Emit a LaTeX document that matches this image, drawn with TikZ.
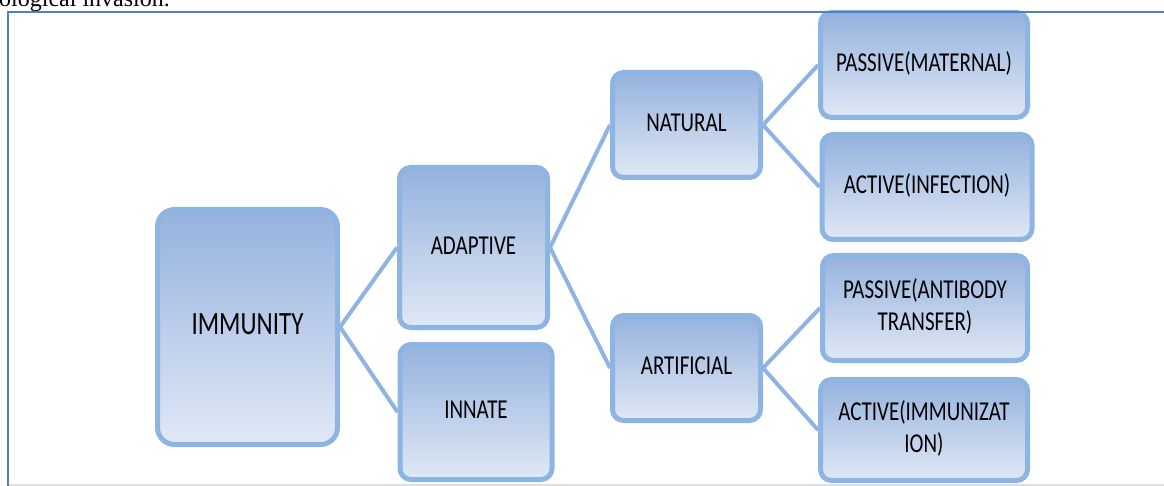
\documentclass[tikz,border=0pt]{standalone}
\usepackage{fontspec}
\setmainfont{Liberation Serif}
\newfontfamily\boxfont{Carlito}
\usepackage{graphicx}
\usetikzlibrary{positioning}
\definecolor{boxBorder}{RGB}{141,180,226}
\definecolor{boxTop}{RGB}{149,178,222}
\definecolor{boxBottom}{RGB}{224,232,245}
\definecolor{frameBlue}{RGB}{79,129,189}
\newcommand{\boxtext}[1]{\scalebox{1}[1.3]{\begin{tabular}{@{}c@{}}#1\end{tabular}}}
\tikzset{
    termbox/.style={draw=boxBorder, line width=5pt, rounded corners=11pt,
        top color=boxTop, bottom color=boxBottom, inner sep=0pt,
        font=\boxfont\fontsize{21}{25}\selectfont},
    link/.style={draw=boxBorder, line width=4pt}
}

\begin{document}
\begin{tikzpicture}[x=1pt, y=-1pt]
    \clip (0,0) rectangle (1164,486);
    \node[anchor=base west, inner sep=0pt, font=\fontsize{24}{28}\selectfont] (caption) at (-1,7) {ological invasion.};

    % first and second level
    \node[termbox, rounded corners=17pt, minimum width=180pt, minimum height=235pt,
        font=\boxfont\fontsize{25}{29}\selectfont] (imm) at (247.5,327) {\boxtext{IMMUNITY}};
    \node[termbox, minimum width=148pt, minimum height=160pt] (adapt) at (473.5,247.5) {\boxtext{ADAPTIVE}};
    \node[termbox, minimum width=152pt, minimum height=135pt] (innate) at (476,412) {\boxtext{INNATE}};

    % third level
    \node[termbox, minimum width=148pt, minimum height=105pt] (natural) at (686.5,125) {\boxtext{NATURAL}};
    \node[termbox, minimum width=148pt, minimum height=105pt] (artif) at (686.5,368) {\boxtext{ARTIFICIAL}};

    % leaves
    \node[termbox, minimum width=207pt, minimum height=105pt] (pmat) at (924,65) {\boxtext{PASSIVE(MATERNAL)}};
    \node[termbox, minimum width=210pt, minimum height=105pt] (ainf) at (927,187) {\boxtext{ACTIVE(INFECTION)}};
    \node[termbox, minimum width=205pt, minimum height=105pt] (pant) at (925,308) {\boxtext{PASSIVE(ANTIBODY\\TRANSFER)}};
    \node[termbox, minimum width=207pt, minimum height=101pt] (aimm) at (924,430) {\boxtext{ACTIVE(IMMUNIZAT\\ION)}};

    \draw[link] (imm.east) -- (adapt.west);
    \draw[link] (imm.east) -- (innate.west);
    \draw[link] (adapt.east) -- (natural.west);
    \draw[link] (adapt.east) -- (artif.west);
    \draw[link] (natural.east) -- (pmat.west);
    \draw[link] (natural.east) -- (ainf.west);
    \draw[link] (artif.east) -- (pant.west);
    \draw[link] (artif.east) -- (aimm.west);

    % frame round the figure
    \draw[gray!25, line width=1.5pt] (8,485) -- (1164,485);
    \draw[frameBlue, line width=1.8pt] (8,490) |- (1170,12);
\end{tikzpicture}
\end{document}
